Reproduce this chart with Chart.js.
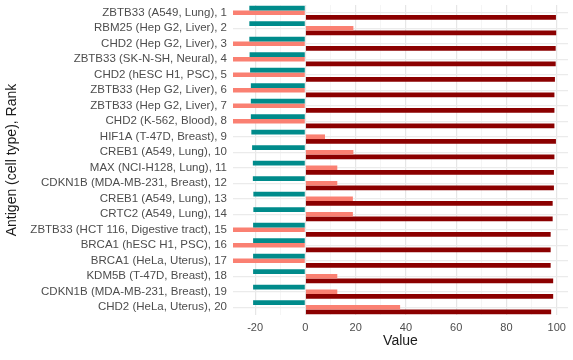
<!DOCTYPE html>
<html>
<head>
<meta charset="utf-8">
<script src="https://cdn.jsdelivr.net/npm/chart.js@4"></script>
<style>
html,body{margin:0;padding:0;background:#fff;}
#wrap{width:573px;height:360px;position:relative;}
</style>
</head>
<body>
<div id="wrap"><canvas id="c"></canvas></div>
<script>
const categories = [
  "ZBTB33 (A549, Lung), 1",
  "RBM25 (Hep G2, Liver), 2",
  "CHD2 (Hep G2, Liver), 3",
  "ZBTB33 (SK-N-SH, Neural), 4",
  "CHD2 (hESC H1, PSC), 5",
  "ZBTB33 (Hep G2, Liver), 6",
  "ZBTB33 (Hep G2, Liver), 7",
  "CHD2 (K-562, Blood), 8",
  "HIF1A (T-47D, Breast), 9",
  "CREB1 (A549, Lung), 10",
  "MAX (NCI-H128, Lung), 11",
  "CDKN1B (MDA-MB-231, Breast), 12",
  "CREB1 (A549, Lung), 13",
  "CRTC2 (A549, Lung), 14",
  "ZBTB33 (HCT 116, Digestive tract), 15",
  "BRCA1 (hESC H1, PSC), 16",
  "BRCA1 (HeLa, Uterus), 17",
  "KDM5B (T-47D, Breast), 18",
  "CDKN1B (MDA-MB-231, Breast), 19",
  "CHD2 (HeLa, Uterus), 20"
];
const tealValues = [-22.3,-22.3,-22.3,-22.2,-22.0,-21.7,-21.7,-21.7,-21.5,-21.2,-20.9,-20.9,-20.7,-20.7,-20.8,-20.8,-20.8,-20.8,-20.8,-20.8];
const salmonValues = [-29,19.1,-29,-29,-29,-29,-29,-29,7.8,19.1,12.7,12.7,18.9,18.9,-29,-29,-29,12.7,12.7,37.7];
const darkRedValues = [99.7,99.8,99.6,99.6,99.3,99.1,99.1,99.1,99.7,99.1,98.9,98.9,98.4,98.4,97.6,97.6,97.6,98.6,98.6,97.8];
const majorTicks = [-20,0,20,40,60,80,100];
const minorTicks = [-10,10,30,50,70,90];
const xMin = -28.8, xMax = 104.5;

const allTicks = majorTicks.concat(minorTicks).sort((a,b)=>a-b);

new Chart(document.getElementById('c'), {
  type: 'bar',
  data: {
    labels: categories,
    datasets: [
      {data: tealValues, backgroundColor: '#008B8B'},
      {data: salmonValues, backgroundColor: '#FA8072'},
      {data: darkRedValues, backgroundColor: '#8B0000'}
    ]
  },
  options: {
    indexAxis: 'y',
    responsive: true,
    maintainAspectRatio: false,
    animation: false,
    layout: {padding: {top: 5, right: 5, bottom: 0, left: 0}},
    datasets: {bar: {categoryPercentage: 0.9, barPercentage: 1.0, borderWidth: 0}},
    plugins: {legend: {display: false}, tooltip: {enabled: false}},
    scales: {
      x: {
        type: 'linear',
        min: xMin, max: xMax,
        afterBuildTicks: s => { s.ticks = allTicks.map(v => ({value: v})); },
        afterFit: s => { s.height = 45; s.paddingLeft = 0; s.paddingRight = 0; },
        border: {display: false},
        grid: {
          drawTicks: false,
          color: ctx => majorTicks.includes(ctx.tick && ctx.tick.value) ? '#E6E6E6' : '#F2F2F2',
          lineWidth: ctx => majorTicks.includes(ctx.tick && ctx.tick.value) ? 1.2 : 0.8
        },
        ticks: {
          autoSkip: false,
          maxRotation: 0,
          padding: 6,
          color: '#4D4D4D',
          font: {family: '"Liberation Sans", Arial, sans-serif', size: 11},
          callback: v => majorTicks.includes(v) ? String(v) : ''
        },
        title: {
          display: true, text: 'Value', color: '#1A1A1A',
          font: {family: '"Liberation Sans", Arial, sans-serif', size: 14},
          padding: {top: 0, bottom: 10}
        }
      },
      y: {
        type: 'category',
        afterFit: s => { s.width = 233; s.paddingTop = 0; s.paddingBottom = 0; },
        border: {display: false},
        grid: {drawTicks: false, offset: false, color: '#EBEBEB', lineWidth: 1.2},
        ticks: {
          autoSkip: false,
          padding: 6,
          color: '#4D4D4D',
          font: {family: '"Liberation Sans", Arial, sans-serif', size: 11.5}
        },
        title: {
          display: true, text: 'Antigen (cell type), Rank', color: '#1A1A1A',
          font: {family: '"Liberation Sans", Arial, sans-serif', size: 14},
          padding: {top: 4, bottom: 0}
        }
      }
    }
  }
});
</script>
</body>
</html>
